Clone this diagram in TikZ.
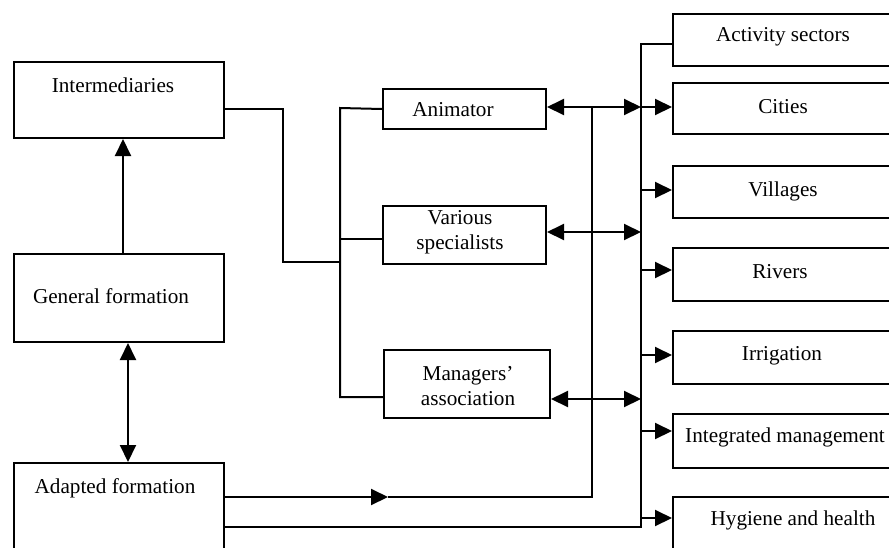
\documentclass[tikz,border=0pt]{standalone}
\usepackage{fontspec}
\setmainfont{Liberation Serif}
\usetikzlibrary{arrows.meta}
\begin{document}
\begin{tikzpicture}[x=1pt,y=-1pt,
  box/.style={draw, line width=2pt, anchor=north west, inner sep=0pt},
  txt/.style={inner sep=0pt, align=center, yshift=-2pt, font=\fontsize{21.2}{25}\selectfont},
  link/.style={line width=2pt},
  tip/.tip={Triangle[length=17pt,width=16pt]},
  arr/.style={link, -tip},
  dbl/.style={link, tip-tip}]

\useasboundingbox (0,0) rectangle (889,547);
\clip (0,0) rectangle (889,547);

% left column
\node[box, minimum width=210pt, minimum height=76pt] (inter) at (13,61) {};
\node[box, minimum width=210pt, minimum height=88pt] (gen) at (13,253) {};
\node[box, minimum width=210pt, minimum height=110pt] (adapt) at (13,462) {};
\node[txt] (tInter) at (113,83) {Intermediaries};
\node[txt] (tGen) at (111,294) {General formation};
\node[txt] (tAdapt) at (115,486) {Adapted formation};

% middle column
\node[box, minimum width=163pt, minimum height=40pt] (anim) at (382,88) {};
\node[box, minimum width=163pt, minimum height=58pt] (spec) at (382,205) {};
\node[box, minimum width=166pt, minimum height=68pt] (mgr) at (383,349) {};
\node[txt] (tAnim) at (453,108) {Animator};
\node[txt] (tSpec) at (460,230) {Various\\specialists};
\node[txt] (tMgr) at (468,384) {Managers’\\association};

% right column
\node[box, minimum width=224pt, minimum height=52pt] (actv) at (672,13) {};
\node[box, minimum width=224pt, minimum height=51pt] (city) at (672,82) {};
\node[box, minimum width=224pt, minimum height=52pt] (vill) at (672,165) {};
\node[box, minimum width=224pt, minimum height=53pt] (riv) at (672,247) {};
\node[box, minimum width=224pt, minimum height=53pt] (irr) at (672,330) {};
\node[box, minimum width=224pt, minimum height=54pt] (integ) at (672,413) {};
\node[box, minimum width=224pt, minimum height=60pt] (hyg) at (672,496) {};
\node[txt] (tActv) at (783,35) {Activity sectors};
\node[txt] (tCity) at (783,105) {Cities};
\node[txt] (tVill) at (783,189) {Villages};
\node[txt] (tRiv) at (780,270) {Rivers};
\node[txt] (tIrr) at (782,354) {Irrigation};
\node[txt] (tInteg) at (785,435) {Integrated management};
\node[txt] (tHyg) at (793,518) {Hygiene and health};

% junction points
\coordinate (brTop) at (340,108);
\coordinate (brBot) at (340,397);
\coordinate (brIn) at (340,262);
\coordinate (busTop) at (641,44);
\coordinate (busBot) at (641,527);
\coordinate (midTip) at (388,497);
\coordinate (adTop) at (592,107);

% left column links
\draw[arr] ([xshift=4pt]gen.north) -- ([xshift=4pt]inter.south);
\draw[dbl] ([xshift=9pt]adapt.north) -- ([xshift=9pt]gen.south);

% intermediaries to the branch
\draw[link] (inter.east |- 0,109) -- (283,109) -- (283,262) -- (brIn);
\draw[link] (anim.west) -- (brTop) -- (brBot) -- (mgr.west |- brBot);
\draw[link] (spec.west |- 0,239) -- (340,239);

% middle boxes to the bus
\draw[dbl] (anim.east |- 0,107) -- (641,107);
\draw[dbl] (spec.east |- 0,232) -- (641,232);
\draw[dbl] (mgr.east |- 0,399) -- (641,399);

% bus
\draw[link] (actv.west |- busTop) -- (busTop) -- (busBot) -- (adapt.east |- busBot);
\draw[arr] (641,107) -- (city.west |- 0,107);
\draw[arr] (641,190) -- (vill.west |- 0,190);
\draw[arr] (641,270) -- (riv.west |- 0,270);
\draw[arr] (641,355) -- (irr.west |- 0,355);
\draw[arr] (641,431) -- (integ.west |- 0,431);
\draw[arr] (641,518) -- (hyg.west |- 0,518);

% adapted formation upper link
\draw[arr] (adapt.east |- midTip) -- (midTip);
\draw[link] (midTip) -- (592,497) -- (adTop);
\end{tikzpicture}
\end{document}
